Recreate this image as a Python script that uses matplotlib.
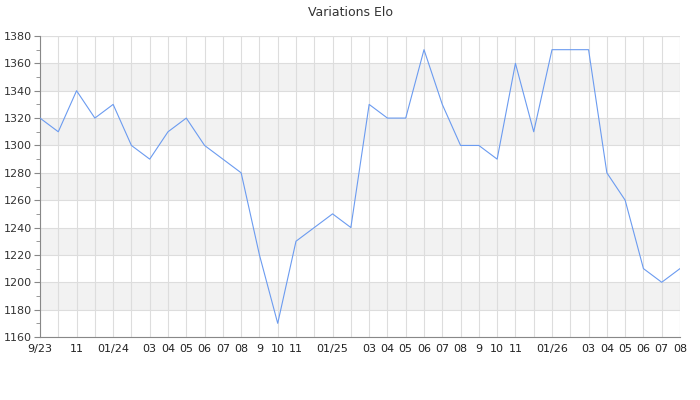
import matplotlib
matplotlib.use("Agg")
import matplotlib.pyplot as plt
from matplotlib.ticker import MultipleLocator

# monthly Elo, Sep 2023 .. Aug 2026
elo = [1320, 1310, 1340, 1320, 1330, 1300, 1290, 1310, 1320, 1300, 1290, 1280,
       1220, 1170, 1230, 1240, 1250, 1240, 1330, 1320, 1320, 1370, 1330, 1300,
       1300, 1290, 1360, 1310, 1370, 1370, 1370, 1280, 1260, 1210, 1200, 1210]

# shown month labels (some months are skipped on the axis)
label_idx = [0, 2, 4, 6, 7, 8, 9, 10, 11, 12, 13, 14, 16, 18, 19, 20, 21, 22, 23,
             24, 25, 26, 28, 30, 31, 32, 33, 34, 35]
label_txt = ["9/23", "11", "01/24", "03", "04", "05", "06", "07", "08", "9", "10", "11",
             "01/25", "03", "04", "05", "06", "07", "08", "9", "10", "11",
             "01/26", "03", "04", "05", "06", "07", "08"]

y_min, y_max, y_step = 1160, 1380, 20

fig = plt.figure(figsize=(7, 4), dpi=100)
ax = fig.add_axes([40 / 700, 1 - 337 / 400, 640 / 700, 301 / 400])

# alternating grey bands
for lo in range(y_min + y_step, y_max, 2 * y_step):
    ax.axhspan(lo, lo + y_step, color="#f2f2f2", lw=0, zorder=0)

x = list(range(len(elo)))
ax.plot(x, elo, color="#6b9bf0", lw=0.8, zorder=3)

ax.set_xlim(0, len(elo) - 1)
ax.set_ylim(y_min, y_max)
ax.set_xticks(x, minor=True)
ax.set_xticks(label_idx)
ax.set_xticklabels(label_txt)
ax.yaxis.set_major_locator(MultipleLocator(y_step))
ax.yaxis.set_minor_locator(MultipleLocator(y_step / 2))

ax.grid(True, which="major", axis="y", color="#dddddd", lw=0.8, zorder=1)
ax.grid(True, which="both", axis="x", color="#dddddd", lw=0.8, zorder=1)
ax.set_axisbelow(True)

for s in ["top", "right"]:
    ax.spines[s].set_visible(False)
for s in ["left", "bottom"]:
    ax.spines[s].set_color("#888888")

ax.tick_params(axis="y", which="major", length=4, color="#888888", labelsize=8, labelcolor="#333333", pad=2)
ax.tick_params(axis="y", which="minor", length=3, color="#888888")
ax.tick_params(axis="x", which="both", length=0, labelsize=8, labelcolor="#222222", pad=5)

# top and right edge lines like the reference grid
ax.axhline(y_max, color="#dddddd", lw=0.8, zorder=1)
ax.axvline(len(elo) - 1, color="#dddddd", lw=0.8, zorder=1)

fig.text(0.5, 1 - 12 / 400, "Variations Elo", ha="center", va="center", fontsize=9, color="#333333")

fig.savefig("out.png", dpi=100)
